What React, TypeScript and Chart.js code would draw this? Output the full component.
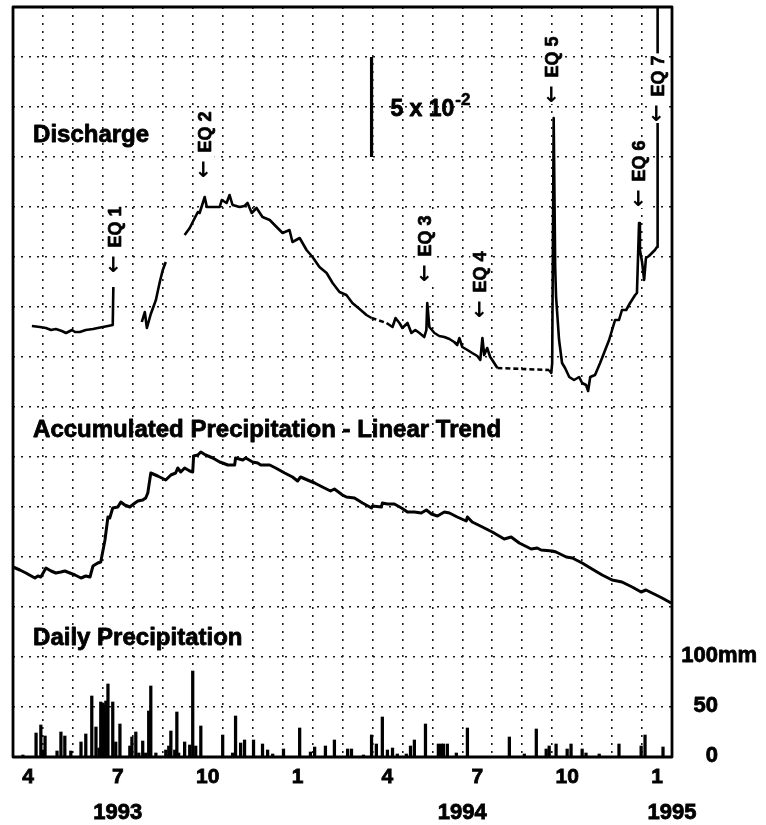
import React, { useEffect, useRef } from 'react';
import { Chart, registerables } from 'chart.js';

Chart.register(...registerables);

// x values are months since 1 April 1993 (0 = Apr 1993, 22 = Feb 1995)
const gridMonths = Array.from({ length: 23 }, (_, i) => i);
const monthTickPos = [0.5, 3.5, 6.5, 9.5, 12.5, 15.5, 18.5, 21.5];
const monthLabels = ['4', '7', '10', '1', '4', '7', '10', '1'];
const yearTickPos = [3.5, 15, 22];
const yearLabels = ['1993', '1994', '1995'];

const precipGrid = Array.from({ length: 16 }, (_, i) => i * 50);
const precipTicks = [0, 50, 100];
const precipTickLabels = ['0', '50', '100'];
const precipUnit = 'mm';

// Discharge (units of 10^-2, relative)
const dischargeSeg1: [number, number][] = [
  [0.63, 21.55], [0.9, 21.5], [1.1, 21.45], [1.27, 21.35], [1.43, 21.4], [1.63, 21.3], [1.77, 21.2],
  [1.97, 21.35], [2.07, 21.25], [2.23, 21.25], [2.43, 21.35], [2.67, 21.4], [2.83, 21.45], [3.0, 21.5],
  [3.17, 21.55], [3.33, 21.6], [3.35, 23.5],
];
const dischargeSeg2: [number, number][] = [
  [4.3, 21.75], [4.4, 22.25], [4.47, 21.45], [4.6, 22.15], [4.77, 22.85], [4.9, 23.75], [5.0, 24.35], [5.1, 24.75],
];
const dischargeSeg3: [number, number][] = [
  [5.73, 26.1], [5.9, 26.45], [6.0, 26.75], [6.17, 27.25], [6.23, 27.2], [6.4, 28.0], [6.47, 27.5], [6.7, 27.5],
  [6.9, 27.5], [6.97, 27.85], [7.13, 27.7], [7.23, 28.1], [7.33, 27.6], [7.57, 27.5], [7.73, 27.55], [7.83, 27.7],
  [7.97, 27.2], [8.13, 27.45], [8.33, 27.0], [8.57, 26.85], [8.8, 26.5], [9.0, 26.2], [9.23, 26.35], [9.33, 25.75],
  [9.57, 25.95], [9.8, 25.35], [10.0, 25.0], [10.23, 24.5], [10.47, 24.2], [10.67, 23.7], [10.9, 23.25],
  [11.13, 23.1], [11.33, 22.7], [11.57, 22.4], [11.8, 22.1], [11.97, 21.95],
  [12.47, 21.7], [12.67, 21.5], [12.77, 21.95], [12.9, 21.7], [13.0, 21.45], [13.17, 21.7], [13.3, 21.2],
  [13.43, 21.35], [13.57, 21.2], [13.73, 21.0], [13.8, 21.35], [13.83, 22.7], [13.9, 21.5], [14.07, 21.2],
  [14.23, 21.05], [14.4, 21.0], [14.57, 20.9], [14.73, 20.75], [14.83, 20.6], [14.9, 20.95], [15.0, 20.5],
  [15.17, 20.35], [15.33, 20.2], [15.5, 20.05], [15.6, 19.85], [15.67, 20.95], [15.73, 20.1], [15.83, 20.45],
  [15.93, 20.0], [16.0, 19.85], [16.17, 19.45],
  [17.9, 19.35], [17.97, 19.2], [18.0, 19.7], [18.05, 31.95], [18.1, 24.5], [18.13, 23.0], [18.23, 20.85],
  [18.33, 19.7], [18.43, 19.45], [18.57, 19.0], [18.73, 18.85], [18.9, 19.0], [19.0, 18.7], [19.13, 18.6],
  [19.2, 18.3], [19.27, 19.0], [19.43, 19.1], [19.6, 19.7], [19.73, 20.2], [19.9, 20.85], [20.0, 21.35],
  [20.1, 21.85], [20.23, 21.85], [20.33, 22.35], [20.47, 22.35], [20.6, 22.7], [20.77, 23.1], [20.83, 23.2],
  [20.9, 26.7], [20.93, 25.35], [21.0, 24.75], [21.07, 23.85], [21.13, 24.95], [21.23, 25.05], [21.33, 25.2],
  [21.43, 25.35], [21.5, 25.5], [21.52, 38],
];
const scaleBar: [number, number][] = [[11.97, 30], [11.97, 35]];

// Accumulated precipitation minus linear trend (relative units)
const accumulated: [number, number][] = [
  [0, 190], [0.23, 187], [0.43, 184], [0.73, 179], [0.83, 181], [0.93, 180], [1.1, 189], [1.27, 186], [1.43, 184],
  [1.6, 185], [1.73, 186], [1.9, 184], [2.07, 182], [2.27, 179], [2.43, 181], [2.57, 180], [2.67, 191], [2.83, 194],
  [2.93, 195], [3.07, 217], [3.17, 240], [3.23, 239], [3.33, 249], [3.5, 250], [3.6, 255], [3.73, 252], [3.9, 250],
  [4.07, 254], [4.17, 256], [4.33, 257], [4.43, 259], [4.5, 264], [4.6, 284], [4.83, 281], [5.1, 277], [5.27, 282],
  [5.43, 284], [5.5, 289], [5.6, 285], [5.73, 289], [5.9, 286], [6.0, 285], [6.03, 301], [6.17, 302], [6.27, 305],
  [6.43, 302], [6.67, 299], [6.9, 295], [7.0, 294], [7.17, 292], [7.4, 292], [7.43, 299], [7.67, 297], [7.77, 299],
  [8.0, 295], [8.17, 294], [8.27, 292], [8.57, 292], [8.77, 289], [9.07, 284], [9.33, 280], [9.5, 276], [9.6, 280],
  [9.83, 277], [10.07, 274], [10.33, 270], [10.6, 266], [10.73, 268], [11.0, 262], [11.13, 260], [11.4, 259],
  [11.67, 254], [11.97, 249], [12.0, 251], [12.3, 250], [12.33, 254], [12.5, 253], [12.73, 253], [12.97, 249],
  [13.17, 245], [13.4, 245], [13.63, 244], [13.8, 247], [13.97, 243], [14.17, 241], [14.4, 245], [14.57, 244],
  [14.83, 240], [15.13, 236], [15.17, 240], [15.33, 235], [15.67, 230], [16.0, 225], [16.4, 218], [16.63, 220],
  [16.9, 214], [17.3, 208], [17.5, 209], [17.63, 207], [18.0, 206], [18.13, 205], [18.47, 200], [18.67, 199],
  [19.0, 194], [19.33, 188], [19.67, 182], [20.0, 177], [20.33, 175], [20.67, 170], [20.97, 165], [21.13, 167],
  [21.47, 162], [21.67, 159], [21.97, 154],
];

// Daily precipitation (mm)
const dailyPrecip: [number, number][] = [
  [0.33, 2], [0.77, 24], [0.93, 32], [1.0, 7], [1.07, 21], [1.47, 6], [1.6, 25], [1.73, 21], [1.93, 6], [2.27, 15],
  [2.43, 23], [2.63, 61], [2.77, 30], [2.87, 9], [2.93, 55], [3.0, 54], [3.07, 52], [3.1, 56], [3.17, 73], [3.33, 55],
  [3.43, 15], [3.57, 33], [3.9, 11], [3.97, 20], [4.1, 25], [4.2, 4], [4.33, 16], [4.43, 4], [4.53, 46], [4.6, 71],
  [4.77, 4], [5.1, 7], [5.2, 11], [5.27, 26], [5.4, 7], [5.47, 45], [5.53, 4], [5.73, 15], [5.9, 12], [6.0, 86],
  [6.1, 11], [6.27, 31], [7.0, 22], [7.33, 4], [7.43, 41], [7.6, 14], [7.73, 17], [8.03, 17], [8.33, 13], [8.5, 7],
  [8.67, 3], [9.03, 8], [9.57, 29], [9.93, 5], [10.07, 10], [10.43, 11], [10.73, 17], [11.17, 8], [11.3, 8],
  [11.7, 2], [11.97, 22], [12.13, 13], [12.33, 40], [12.5, 7], [12.67, 9], [12.83, 3], [13.13, 3], [13.27, 11],
  [13.4, 17], [13.77, 33], [14.2, 13], [14.3, 13], [14.37, 13], [14.5, 13], [14.8, 4], [15.17, 29], [16.57, 20],
  [17.07, 3], [17.47, 28], [17.8, 8], [17.9, 11], [18.13, 13], [18.5, 8], [18.63, 13], [19.0, 8], [19.13, 4],
  [19.57, 3], [20.23, 13], [20.97, 11], [21.1, 22], [21.7, 10],
];

const eqLabels = [
  { text: 'EQ 1', x: 3.4, y: 24.2 },
  { text: 'EQ 2', x: 6.4, y: 28.95 },
  { text: 'EQ 3', x: 13.77, y: 23.75 },
  { text: 'EQ 4', x: 15.6, y: 21.95 },
  { text: 'EQ 5', x: 18.0, y: 32.7 },
  { text: 'EQ 6', x: 20.9, y: 27.5 },
  { text: 'EQ 7', x: 21.53, y: 31.75 },
];
const scaleBarLabel = { base: '5 x 10', exp: '-2', x: 12.6, y: 32.05 };
const panelTitles = [
  { text: 'Discharge', x: 0.67, y: 615 },
  { text: 'Accumulated Precipitation - Linear Trend', x: 0.67, y: 320 },
  { text: 'Daily Precipitation', x: 0.67, y: 112 },
];

const FONT = '"Liberation Sans", Arial, Helvetica, sans-serif';
const toXY = (a: [number, number][]) => a.map(([x, y]) => ({ x, y }));

const dashGap = (data: [number, number][]) => (ctx: any) => {
  const a = data[ctx.p0DataIndex];
  const b = data[ctx.p1DataIndex];
  return a && b && b[0] - a[0] > 0.4 ? [5, 3] : undefined;
};

const heavyText = (ctx: CanvasRenderingContext2D, t: string, x: number, y: number, w = 0.8) => {
  ctx.lineWidth = w;
  ctx.strokeStyle = '#000';
  ctx.lineJoin = 'round';
  ctx.strokeText(t, x, y);
  ctx.fillText(t, x, y);
};

const annotatePlugin = {
  id: 'annotate',
  beforeDraw(chart: any) {
    const { ctx, width, height } = chart;
    ctx.save();
    ctx.fillStyle = '#fff';
    ctx.fillRect(0, 0, width, height);
    ctx.restore();
  },
  afterDatasetsDraw(chart: any) {
    const { ctx, chartArea } = chart;
    const xs = chart.scales.x;
    const yD = chart.scales.yD;
    const yP = chart.scales.yP;
    ctx.save();
    ctx.fillStyle = '#000';

    // panel titles
    ctx.font = `bold 24px ${FONT}`;
    ctx.textAlign = 'left';
    ctx.textBaseline = 'alphabetic';
    panelTitles.forEach((t) => {
      heavyText(ctx, t.text, xs.getPixelForValue(t.x), yP.getPixelForValue(t.y));
    });

    // EQ labels (rotated, arrow pointing down)
    eqLabels.forEach((l) => {
      const px = xs.getPixelForValue(l.x);
      const py = yD.getPixelForValue(l.y);
      ctx.save();
      ctx.translate(px, py);
      ctx.rotate(-Math.PI / 2);
      ctx.textBaseline = 'middle';
      ctx.textAlign = 'left';
      const arrowFont = `bold 21px "DejaVu Sans", ${FONT}`;
      ctx.font = arrowFont;
      const arrow = '\u2190';
      const aw = ctx.measureText(arrow).width;
      ctx.font = `bold 18px ${FONT}`;
      const tw = ctx.measureText(l.text).width;
      const gap = 8;
      ctx.fillStyle = '#fff';
      ctx.fillRect(-1, -10, aw + gap + tw + 3, 20);
      ctx.fillStyle = '#000';
      ctx.font = arrowFont;
      ctx.fillText(arrow, 0, 0);
      ctx.font = `bold 18px ${FONT}`;
      heavyText(ctx, l.text, aw + gap, 1, 0.7);
      ctx.restore();
    });

    // scale bar label
    {
      const px = xs.getPixelForValue(scaleBarLabel.x);
      const py = yD.getPixelForValue(scaleBarLabel.y);
      ctx.textAlign = 'left';
      ctx.textBaseline = 'alphabetic';
      ctx.font = `bold 23px ${FONT}`;
      heavyText(ctx, scaleBarLabel.base, px, py);
      const w = ctx.measureText(scaleBarLabel.base).width;
      ctx.font = `bold 17px ${FONT}`;
      heavyText(ctx, scaleBarLabel.exp, px + w + 1, py - 11, 0.6);
    }

    // precipitation scale labels on the right
    ctx.font = `bold 22px ${FONT}`;
    ctx.textBaseline = 'middle';
    precipTicks.forEach((v, i) => {
      const py = yP.getPixelForValue(v) - 1;
      const rx = chartArea.right + 46;
      ctx.textAlign = 'right';
      heavyText(ctx, precipTickLabels[i], rx, py);
      if (i === precipTicks.length - 1) {
        ctx.textAlign = 'left';
        heavyText(ctx, precipUnit, rx, py);
      }
    });

    // frame
    ctx.strokeStyle = '#000';
    ctx.lineWidth = 2.8;
    ctx.strokeRect(chartArea.left, chartArea.top, chartArea.right - chartArea.left, chartArea.bottom - chartArea.top);
    ctx.restore();
  },
};

export default function App() {
  const ref = useRef<HTMLCanvasElement | null>(null);
  useEffect(() => {
    document.body.style.margin = '0';
    const canvas = ref.current;
    if (!canvas) return;
    const lineCommon = {
      type: 'line' as const,
      borderColor: '#000',
      pointRadius: 0,
      tension: 0,
      fill: false,
      borderJoinStyle: 'round' as const,
      xAxisID: 'x',
    };
    const tickFont = (size: number) => ({ family: FONT, size, weight: 'bold' });
    const chart = new Chart(canvas, {
      type: 'line',
      data: {
        datasets: [
          { ...lineCommon, label: 'Discharge 1', data: toXY(dischargeSeg1), yAxisID: 'yD', borderWidth: 2.6, segment: { borderDash: dashGap(dischargeSeg1) } },
          { ...lineCommon, label: 'Discharge 2', data: toXY(dischargeSeg2), yAxisID: 'yD', borderWidth: 2.6, segment: { borderDash: dashGap(dischargeSeg2) } },
          { ...lineCommon, label: 'Discharge 3', data: toXY(dischargeSeg3), yAxisID: 'yD', borderWidth: 2.6, segment: { borderDash: dashGap(dischargeSeg3) } },
          { ...lineCommon, label: 'Scale', data: toXY(scaleBar), yAxisID: 'yD', borderWidth: 3.2, borderCapStyle: 'butt' },
          { ...lineCommon, label: 'Accumulated Precipitation - Linear Trend', data: toXY(accumulated), yAxisID: 'yA', borderWidth: 3 },
          {
            type: 'bar',
            label: 'Daily Precipitation',
            data: toXY(dailyPrecip),
            xAxisID: 'x',
            yAxisID: 'yP',
            backgroundColor: '#000',
            borderWidth: 0,
            barThickness: 2.6,
            grouped: false,
          } as any,
        ],
      },
      options: {
        animation: false,
        responsive: false,
        devicePixelRatio: 1,
        events: [],
        layout: { padding: { left: 13, top: 7, right: 0, bottom: 0 } },
        plugins: { legend: { display: false }, tooltip: { enabled: false }, title: { display: false } },
        scales: {
          x: {
            type: 'linear', position: 'bottom', min: 0, max: 22, offset: false, weight: 0,
            afterBuildTicks: (s: any) => { s.ticks = gridMonths.map((v) => ({ value: v })); },
            ticks: { display: false },
            grid: { display: true, color: '#1a1a1a', lineWidth: 1.6, drawTicks: false, offset: false },
            border: { display: false, dash: [2, 6] },
            afterFit: (s: any) => { s.height = 0; },
          },
          xm: {
            type: 'linear', position: 'bottom', min: 0, max: 22, offset: false, weight: 1,
            afterBuildTicks: (s: any) => { s.ticks = monthTickPos.map((v) => ({ value: v })); },
            ticks: {
              autoSkip: false, maxRotation: 0, minRotation: 0, padding: 8, color: '#000',
              textStrokeColor: '#000', textStrokeWidth: 0.8,
              font: tickFont(21),
              callback: (_v: any, i: number) => monthLabels[i],
            },
            grid: { display: false, drawTicks: false },
            border: { display: false },
            afterFit: (s: any) => { s.height = 34; },
          },
          xy: {
            type: 'linear', position: 'bottom', min: 0, max: 22, offset: false, weight: 2,
            afterBuildTicks: (s: any) => { s.ticks = yearTickPos.map((v) => ({ value: v })); },
            ticks: {
              autoSkip: false, maxRotation: 0, minRotation: 0, padding: 9, color: '#000',
              textStrokeColor: '#000', textStrokeWidth: 0.8,
              font: tickFont(22),
              callback: (_v: any, i: number) => yearLabels[i],
            },
            grid: { display: false, drawTicks: false },
            border: { display: false },
            afterFit: (s: any) => { s.height = 34; },
          },
          yP: {
            type: 'linear', position: 'right', min: 0, max: 750,
            afterBuildTicks: (s: any) => { s.ticks = precipGrid.map((v) => ({ value: v })); },
            ticks: { display: false },
            grid: { display: true, color: '#1a1a1a', lineWidth: 1.6, drawTicks: false },
            border: { display: false, dash: [2, 6] },
            afterFit: (s: any) => { s.width = 94; },
          },
          yD: { type: 'linear', display: false, min: 0, max: 37.5 },
          yA: { type: 'linear', display: false, min: 0, max: 750 },
        },
      } as any,
      plugins: [annotatePlugin],
    });
    return () => chart.destroy();
  }, []);
  return (
    <canvas ref={ref} width={766} height={825} style={{ display: 'block', width: 766, height: 825 }} />
  );
}
